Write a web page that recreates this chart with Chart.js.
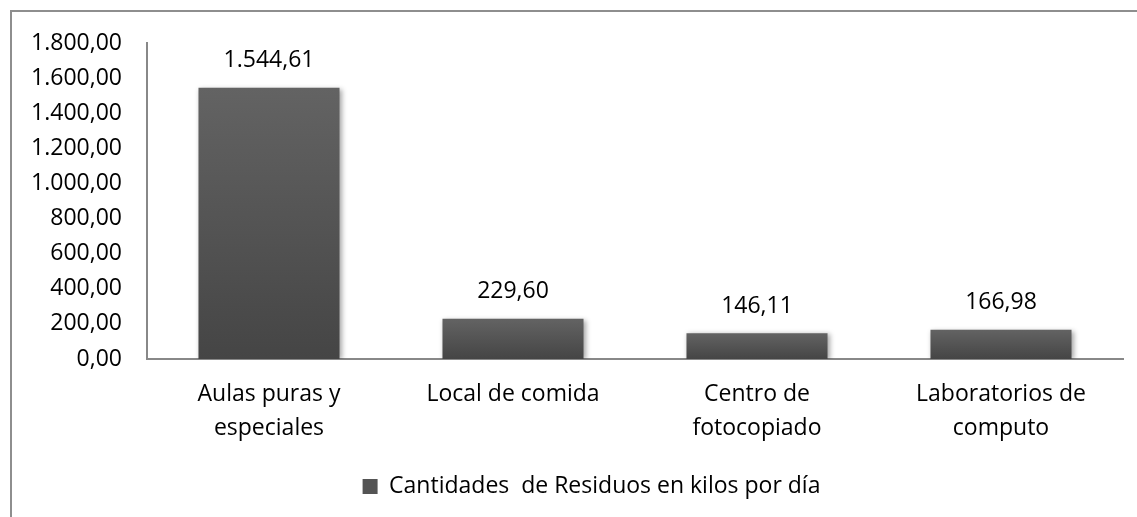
<!DOCTYPE html>
<html lang="es">
<head>
    <meta charset="UTF-8">
    <title>Cantidades de Residuos</title>
    <script src="https://cdn.jsdelivr.net/npm/chart.js"></script>
    <style>
        html, body { margin: 0; padding: 0; background: #fff; overflow: hidden; }
        #wrap { position: relative; width: 1137px; height: 517px; }
        #frame {
            position: absolute; left: 10px; top: 10px; width: 1200px; height: 600px;
            border-top: 2px solid #8e8e8e; border-left: 2px solid #8e8e8e;
        }
        #chart { position: absolute; left: 0; top: 0; }
    </style>
</head>
<body>
<div id="wrap">
    <div id="frame"></div>
    <canvas id="chart" width="1137" height="517"></canvas>
</div>
<script>
    // data
    const categories = [
        ['Aulas puras y', 'especiales'],
        'Local de comida',
        ['Centro de', 'fotocopiado'],
        ['Laboratorios de', 'computo']
    ];
    const residuos = [1544.61, 229.60, 146.11, 166.98];
    const seriesName = 'Cantidades  de Residuos en kilos por día';
    const yMax = 1800;
    const yStep = 200;

    // 1544.61 -> "1.544,61"
    function fmt(v) {
        const parts = Number(v).toFixed(2).split('.');
        parts[0] = parts[0].replace(/\B(?=(\d{3})+(?!\d))/g, '.');
        return parts[0] + ',' + parts[1];
    }

    const FONT = "'Open Sans', sans-serif";
    const FSIZE = 23;

    function barFill(context) {
        const chart = context.chart;
        const yScale = chart.scales.y;
        if (!yScale || context.type !== 'data') return '#555555';
        const top = yScale.getPixelForValue(context.parsed.y);
        const bottom = yScale.getPixelForValue(0);
        if (!isFinite(top) || !isFinite(bottom) || top === bottom) return '#555555';
        const g = chart.ctx.createLinearGradient(0, top, 0, bottom);
        g.addColorStop(0, '#636363');
        g.addColorStop(1, '#454545');
        return g;
    }

    // soft shadow under the bars
    const barShadow = {
        id: 'barShadow',
        beforeDatasetsDraw(chart) {
            const ctx = chart.ctx;
            ctx.save();
            ctx.shadowColor = 'rgba(0,0,0,0.35)';
            ctx.shadowBlur = 5;
            ctx.shadowOffsetX = 2;
            ctx.shadowOffsetY = 1;
        },
        afterDatasetsDraw(chart) {
            chart.ctx.restore();
        }
    };

    // value labels above bars
    const valueLabels = {
        id: 'valueLabels',
        afterDatasetsDraw(chart) {
            const ctx = chart.ctx;
            const meta = chart.getDatasetMeta(0);
            ctx.save();
            ctx.font = FSIZE + 'px ' + FONT;
            ctx.fillStyle = '#000';
            ctx.textAlign = 'center';
            ctx.textBaseline = 'middle';
            meta.data.forEach((bar, i) => {
                ctx.fillText(fmt(chart.data.datasets[0].data[i]), bar.x, bar.y - 27);
            });
            ctx.restore();
        }
    };

    // the legend sits a little right of the canvas centre, as in Excel
    const legendShift = {
        id: 'legendShift',
        afterLayout(chart) {
            if (chart.legend) {
                chart.legend.left += 30;
                chart.legend.right += 30;
            }
        }
    };

    const ctx = document.getElementById('chart').getContext('2d');
    const chart = new Chart(ctx, {
        type: 'bar',
        data: {
            labels: categories,
            datasets: [{
                label: seriesName,
                data: residuos,
                backgroundColor: barFill,
                borderWidth: 0,
                categoryPercentage: 1,
                barPercentage: 0.578
            }]
        },
        options: {
            responsive: false,
            animation: false,
            devicePixelRatio: 1,
            layout: { padding: { top: 43, right: 14, bottom: 9, left: 0 } },
            plugins: {
                tooltip: { enabled: false },
                legend: {
                    position: 'bottom',
                    labels: {
                        color: '#000',
                        font: { family: FONT, size: FSIZE },
                        boxWidth: 15,
                        boxHeight: 15,
                        padding: 10,
                        generateLabels(chart) {
                            return [{
                                text: seriesName,
                                fillStyle: '#545454',
                                strokeStyle: '#545454',
                                lineWidth: 0,
                                datasetIndex: 0
                            }];
                        }
                    }
                }
            },
            scales: {
                x: {
                    grid: { display: false, drawTicks: false },
                    border: { display: true, color: '#888888', width: 2 },
                    ticks: {
                        color: '#000',
                        font: { family: FONT, size: FSIZE, lineHeight: 1.5 },
                        padding: 18,
                        maxRotation: 0,
                        autoSkip: false
                    },
                    afterFit(scale) { scale.height = 106; }
                },
                y: {
                    min: 0,
                    max: yMax,
                    grid: { display: false, drawTicks: false },
                    border: { display: true, color: '#888888', width: 2 },
                    ticks: {
                        stepSize: yStep,
                        color: '#000',
                        font: { family: FONT, size: FSIZE },
                        padding: 25,
                        callback: (v) => fmt(v)
                    },
                    afterFit(scale) { scale.width = 147; }
                }
            }
        },
        plugins: [barShadow, valueLabels, legendShift]
    });
</script>
</body>
</html>
